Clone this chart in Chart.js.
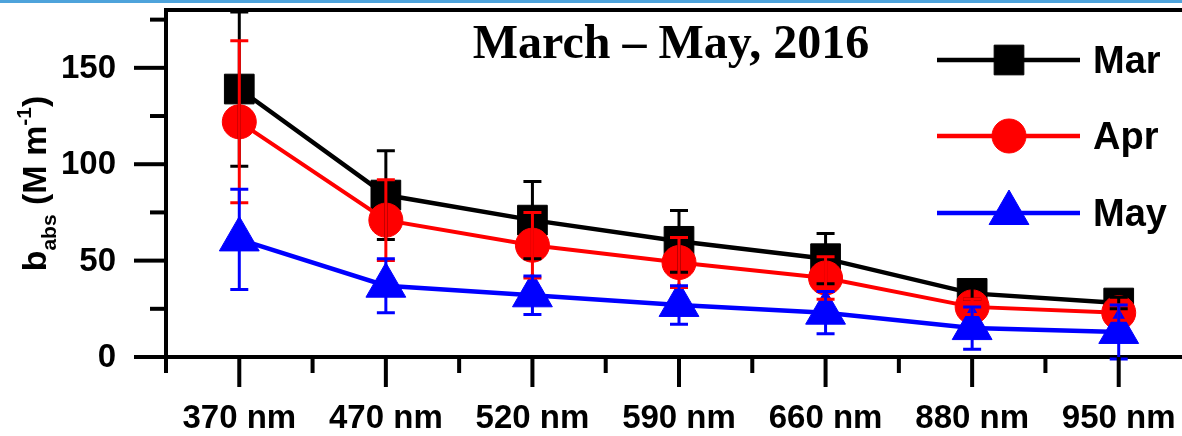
<!DOCTYPE html>
<html>
<head>
<meta charset="utf-8">
<script src="https://cdn.jsdelivr.net/npm/chart.js@4.4.0/dist/chart.umd.min.js"></script>
<style>
  body { margin: 0; overflow: hidden; background: #fff; width: 1182px; height: 436px; position: relative; }
  #myChart { position: absolute; left: 0; top: 0; }
  #strip { position: absolute; left: 0; top: 0; width: 1182px; height: 3px; background: #4ea3db; z-index: 2; }
</style>
</head>
<body>
<div id="strip"></div>
<canvas id="myChart" width="1192" height="436"></canvas>
<script>
// wavelengths on the x axis
var wavelengths = ['370 nm', '470 nm', '520 nm', '590 nm', '660 nm', '880 nm', '950 nm'];

// monthly mean b_abs (M m-1) and error bars
var marValues = [139, 84, 71, 60, 51, 33, 28];
var marErr = [40, 23, 20, 16, 13, 3, 3];
var aprValues = [122, 71, 58, 49, 41, 26, 23];
var aprErr = [42, 21, 17, 13, 11, 4, 4];
var mayValues = [61, 37, 32, 27, 23, 15, 13];
var mayErr = [26, 14, 10, 10, 11, 11, 14];

var yLabelTicks = [0, 50, 100, 150];
var titleText = 'March \u2013 May, 2016';

var errors = [marErr, aprErr, mayErr];
const fontSans = '"Liberation Sans", Arial, sans-serif';

// error bars, drawn over the markers
const errorBars = {
    id: 'errorBars',
    afterDatasetsDraw(chart) {
        const ctx = chart.ctx;
        const y = chart.scales.y;
        ctx.save();
        [0, 1, 2].forEach(function (d) {
            const meta = chart.getDatasetMeta(d);
            const ds = chart.data.datasets[d];
            ctx.strokeStyle = ds.borderColor;
            ctx.lineWidth = 3;
            meta.data.forEach(function (pt, i) {
                const v = ds.data[i], e = errors[d][i];
                const top = y.getPixelForValue(v + e);
                const bot = y.getPixelForValue(v - e);
                ctx.beginPath();
                ctx.moveTo(pt.x, top); ctx.lineTo(pt.x, bot);
                ctx.moveTo(pt.x - 9, top); ctx.lineTo(pt.x + 9, top);
                ctx.moveTo(pt.x - 9, bot); ctx.lineTo(pt.x + 9, bot);
                ctx.stroke();
            });
        });
        ctx.restore();
    }
};

// frame, tick marks, y labels, axis title, title and legend
const decorations = {
    id: 'decorations',
    afterDraw(chart) {
        const ctx = chart.ctx;
        const area = chart.chartArea;
        const x = chart.scales.x, y = chart.scales.y;
        ctx.save();
        ctx.strokeStyle = '#000';
        ctx.fillStyle = '#000';
        ctx.lineWidth = 4;
        ctx.lineCap = 'butt';

        // top frame
        ctx.beginPath();
        ctx.moveTo(area.left - 2, area.top);
        ctx.lineTo(chart.width, area.top);
        ctx.stroke();

        // y ticks every 25, labels every 50
        ctx.font = 'bold 33px ' + fontSans;
        ctx.textAlign = 'right';
        ctx.textBaseline = 'middle';
        for (let v = 0; v <= y.max; v += 25) {
            const py = y.getPixelForValue(v);
            const major = yLabelTicks.indexOf(v) >= 0;
            ctx.beginPath();
            ctx.moveTo(area.left, py);
            ctx.lineTo(area.left - (major ? 32 : 16), py);
            ctx.stroke();
            if (major) ctx.fillText(String(v), area.left - 50, py + 1);
        }

        // x ticks: major at categories, minor in between
        const step = x.getPixelForValue(1) - x.getPixelForValue(0);
        for (let i = 0; i < wavelengths.length; i++) {
            const px = x.getPixelForValue(i);
            ctx.beginPath();
            ctx.moveTo(px, area.bottom);
            ctx.lineTo(px, area.bottom + 30);
            ctx.moveTo(px - step / 2, area.bottom);
            ctx.lineTo(px - step / 2, area.bottom + 16);
            ctx.stroke();
        }

        // y axis title with sub/superscript
        ctx.textAlign = 'left';
        ctx.textBaseline = 'alphabetic';
        ctx.translate(46, (area.top + area.bottom) / 2);
        ctx.rotate(-Math.PI / 2);
        const big = 'bold 34px ' + fontSans;
        const small = 'bold 21px ' + fontSans;
        const parts = [
            ['b', big, 0], ['abs', small, 10], [' (M m', big, 0], ['-1', small, -15], [')', big, 0]
        ];
        let total = 0;
        parts.forEach(function (p) { ctx.font = p[1]; total += ctx.measureText(p[0]).width; });
        let cx = -total / 2;
        parts.forEach(function (p) {
            ctx.font = p[1];
            ctx.fillText(p[0], cx, p[2]);
            cx += ctx.measureText(p[0]).width;
        });
        ctx.setTransform(1, 0, 0, 1, 0, 0);

        // title inside plot
        ctx.font = 'bold 48px "Liberation Serif", "Times New Roman", serif';
        ctx.textAlign = 'center';
        ctx.fillText(titleText, 671, area.top + 48);

        // legend
        ctx.textAlign = 'left';
        ctx.textBaseline = 'middle';
        ctx.font = 'bold 38px ' + fontSans;
        const rows = [50, 126, 203];
        chart.data.datasets.forEach(function (ds, i) {
            const ly = area.top + rows[i];
            ctx.strokeStyle = ds.borderColor;
            ctx.fillStyle = ds.backgroundColor;
            ctx.lineWidth = 4.5;
            ctx.beginPath();
            ctx.moveTo(937, ly); ctx.lineTo(1080, ly);
            ctx.stroke();
            ctx.lineWidth = 1;
            Chart.helpers.drawPoint(ctx, { pointStyle: ds.pointStyle, radius: ds.pointRadius, rotation: 0, borderWidth: 1 }, 1009, ly);
            ctx.fillStyle = '#000';
            ctx.fillText(ds.label, 1093, ly + 3);
        });
        ctx.restore();
    }
};

const data = {
    labels: wavelengths,
    datasets: [
        {
            label: 'Mar', data: marValues, borderColor: '#000', backgroundColor: '#000',
            borderWidth: 4.5, pointStyle: 'rect', pointRadius: 21, pointBorderWidth: 1, order: 3
        },
        {
            label: 'Apr', data: aprValues, borderColor: '#ff0000', backgroundColor: '#ff0000',
            borderWidth: 4, pointStyle: 'circle', pointRadius: 17, pointBorderWidth: 1, order: 2
        },
        {
            label: 'May', data: mayValues, borderColor: '#0000ff', backgroundColor: '#0000ff',
            borderWidth: 4.5, pointStyle: 'triangle', pointRadius: 23, pointBorderWidth: 1, order: 1
        }
    ]
};

const config = {
    type: 'line',
    data: data,
    options: {
        responsive: false,
        animation: false,
        layout: { autoPadding: false, padding: { top: 10, left: 0, right: 0, bottom: 0 } },
        plugins: { legend: { display: false }, tooltip: { enabled: false } },
        scales: {
            x: {
                type: 'category',
                offset: true,
                afterFit: function (s) { s.height = 79; },
                grid: { display: true, drawOnChartArea: false, drawTicks: true, tickLength: 30, color: 'transparent' },
                border: { display: true, color: '#000', width: 4 },
                ticks: {
                    color: '#000', padding: 12, maxRotation: 0, autoSkip: false,
                    font: { family: fontSans, size: 33, weight: 'bold' }
                }
            },
            y: {
                min: 0,
                max: 180,
                afterFit: function (s) { s.width = 166; },
                grid: { display: false },
                border: { display: true, color: '#000', width: 4 },
                ticks: { display: false, stepSize: 25 }
            }
        }
    },
    plugins: [errorBars, decorations]
};

const myChart = new Chart(document.getElementById('myChart'), config);
</script>
</body>
</html>
